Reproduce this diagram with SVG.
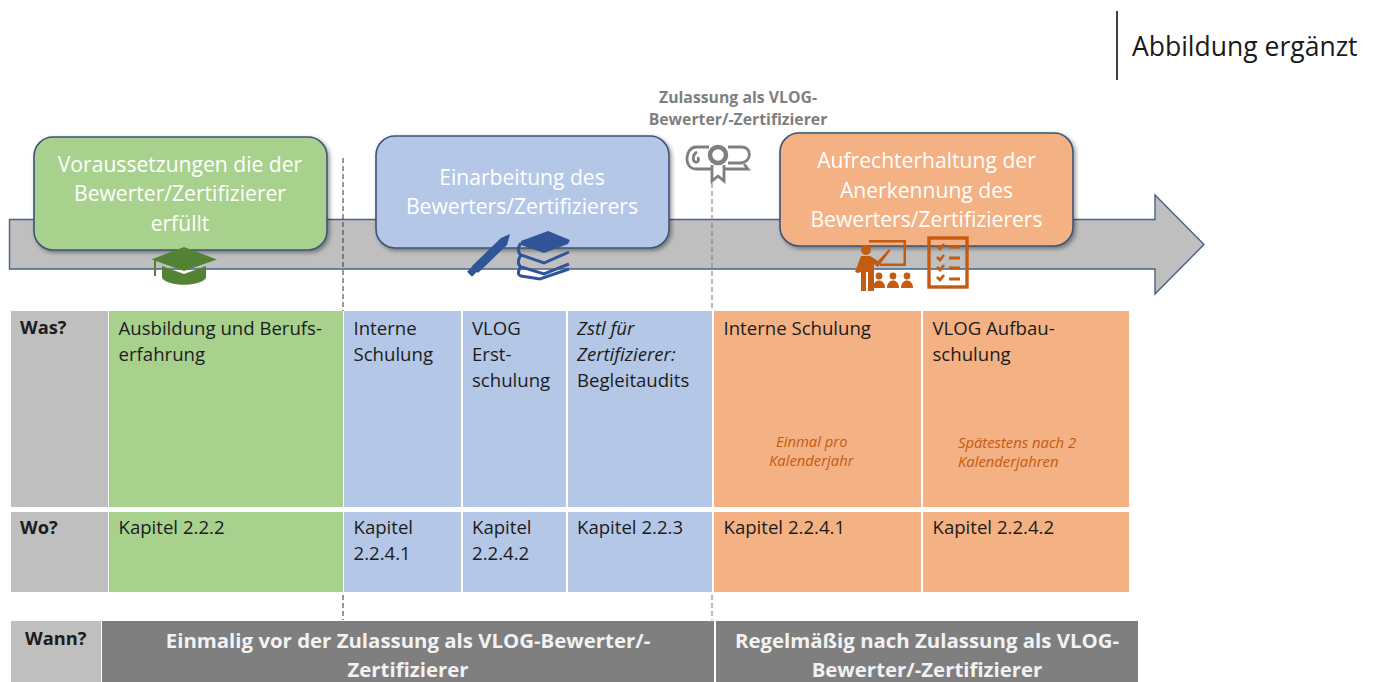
<svg xmlns="http://www.w3.org/2000/svg" width="1376" height="682" viewBox="0 0 1376 682">
<defs>
<filter id="sh" x="-5%" y="-10%" width="112%" height="125%"><feDropShadow dx="2" dy="2" stdDeviation="2" flood-color="#000" flood-opacity="0.4"/></filter>
</defs>
<style>
text{font-family:"Open Sans","Liberation Sans",sans-serif}
.t{font-size:18.6px;fill:#1c1c1c}
.b{font-size:18.3px;fill:#1c1c1c;font-weight:700}
.h{font-size:21.100px;fill:#fff;text-anchor:middle}
.w{font-size:20.400px;fill:#f2f2f2;font-weight:700;text-anchor:middle}
.n{font-size:14.800px;fill:#c55a11;font-style:italic}
.box{stroke:#3b5478;stroke-width:1.6;filter:url(#sh)}
.dash{stroke:#333;stroke-width:1;stroke-dasharray:5 3;fill:none}
.dashg{stroke:#8a8a8a;stroke-width:1.2;stroke-dasharray:5 3;fill:none}
.green{fill:#a9d18e}.blue{fill:#b4c7e7}.orange{fill:#f4b183}.grey{fill:#bfbfbf}.dark{fill:#7f7f7f}
</style>
<g id="note"><line x1="1117" y1="11" x2="1117" y2="80" stroke="#000" stroke-width="1.5"/><text x="1132" y="56" font-size="26.500px" fill="#1a1a1a">Abbildung ergänzt</text></g>
<g id="timeline"><path d="M9.500 219.500H1155V195L1204 244.500L1155 294V269H9.500Z" fill="#bfbfbf" stroke="#4a6286" stroke-width="1.4"/></g>
<g id="connectors">
<line class="dash" x1="343" y1="158" x2="343" y2="311"/>
<line class="dash" x1="343" y1="595" x2="343" y2="620"/>
<line class="dashg" x1="712" y1="183" x2="712" y2="311"/>
<line class="dashg" x1="712" y1="595" x2="712" y2="620"/>
</g>
<g id="node-voraussetzungen"><rect class="box green" x="34" y="137" width="293" height="113" rx="19"/>
<text class="h"><tspan x="180" y="172">Voraussetzungen die der</tspan><tspan x="180" y="201">Bewerter/Zertifizierer</tspan><tspan x="180" y="231">erfüllt</tspan></text>
<g fill="#548235"><path d="M184 247L217 259.500L184 271L156 261V276H154V260L151 259.500Z"/><path d="M162 266L184 274L206 266V278C200 287 168 287 162 278Z"/></g></g>
<g id="node-einarbeitung"><rect class="box blue" x="376" y="136" width="293" height="112" rx="19"/>
<text class="h"><tspan x="522" y="185">Einarbeitung des</tspan><tspan x="522" y="214">Bewerters/Zertifizierers</tspan></text>
<g fill="#2f5597"><path d="M472 266L501 238L510 234L507 245L478 273Z"/><rect x="468" y="268" width="8" height="7" transform="rotate(-45 472 271)"/>
<path d="M548 231L570 240L568 244L544 253L521 245V241Z"/><g fill="none" stroke="#2f5597" stroke-width="3"><path d="M521 243C517 248 518 253 521 255L544 263L569 252"/><path d="M521 255C517 260 518 265 521 267L544 274L569 264"/><path d="M521 267C517 272 518 275 521 276L540 279L569 269"/></g></g></g>
<g id="node-zulassung"><text font-size="15.800px" font-weight="700" fill="#7f7f7f" text-anchor="middle"><tspan x="738" y="103">Zulassung als VLOG-</tspan><tspan x="738" y="125">Bewerter/-Zertifizierer</tspan></text>
<g fill="none" stroke="#7f7f7f" stroke-width="2.800"><path d="M709 147H696C685 147 683 169 696 169H712M724 169H748L744 164"/><path d="M728 147H742C752 147 752 162 741 163H728"/><path d="M697 152C692 155 692 163 697 162C699 161 699 158 697 158"/><circle cx="718" cy="155" r="8" stroke-width="4.500"/><path d="M712 165V181L718 176L724 181V165"/></g></g>
<g id="node-aufrechterhaltung"><rect class="box orange" x="780" y="133" width="293" height="113" rx="19"/>
<text class="h"><tspan x="926.500" y="168">Aufrechterhaltung der</tspan><tspan x="926.500" y="198">Anerkennung des</tspan><tspan x="926.500" y="227">Bewerters/Zertifizierers</tspan></text>
<g fill="#c55a11"><path d="M869 240H906V266H880V263.500H903.500V242.500H869Z"/><circle cx="866" cy="250" r="5"/><path d="M861 256H870L878 261L889 249L890.500 250.500L878 267L874 264V291H868V272H866V291H861V272L858 273L855 272Z"/>
<circle cx="879" cy="276" r="3.400"/><path d="M873 288C873 278 885 278 885 288Z"/><circle cx="893" cy="276" r="3.400"/><path d="M887 288C887 278 899 278 899 288Z"/><circle cx="907" cy="276" r="3.400"/><path d="M901 288C901 278 913 278 913 288Z"/></g>
<g fill="none" stroke="#c55a11" stroke-width="2.800"><rect x="929" y="238" width="38" height="49" stroke-width="3.400"/><path d="M937 246L940 249L944 244M949 247H960M937 257L940 260L944 255M949 258H960M937 267L940 270L944 265M949 268H960M937 277L940 280L944 275M949 279H960"/></g></g>
<g id="row-was">
<rect class="grey" x="11" y="311" width="97" height="196"/>
<rect class="green" x="109" y="311" width="234" height="196"/>
<rect class="blue" x="344" y="311" width="117" height="196"/>
<rect class="blue" x="463" y="311" width="103" height="196"/>
<rect class="blue" x="568" y="311" width="144" height="196"/>
<rect class="orange" x="714" y="311" width="207" height="196"/>
<rect class="orange" x="923" y="311" width="206" height="196"/>
<text class="b" x="20" y="334">Was?</text>
<text class="t"><tspan x="118.500" y="335">Ausbildung und Berufs-</tspan><tspan x="118.500" y="361">erfahrung</tspan></text>
<text class="t"><tspan x="353.500" y="335">Interne</tspan><tspan x="353.500" y="361">Schulung</tspan></text>
<text class="t"><tspan x="472" y="335">VLOG</tspan><tspan x="472" y="361">Erst-</tspan><tspan x="472" y="387">schulung</tspan></text>
<text class="t"><tspan x="577" y="335" font-style="italic">Zstl für</tspan><tspan x="577" y="361" font-style="italic">Zertifizierer:</tspan><tspan x="577" y="387">Begleitaudits</tspan></text>
<text class="t" x="723.500" y="335">Interne Schulung</text>
<text class="t"><tspan x="932.500" y="335">VLOG Aufbau-</tspan><tspan x="932.500" y="361">schulung</tspan></text>
<text class="n"><tspan x="776" y="447">Einmal pro</tspan><tspan x="769" y="466">Kalenderjahr</tspan></text>
<text class="n"><tspan x="958" y="448">Spätestens nach 2</tspan><tspan x="958" y="467">Kalenderjahren</tspan></text>
</g>
<g id="row-wo">
<rect class="grey" x="11" y="512" width="97" height="80"/>
<rect class="green" x="109" y="512" width="234" height="80"/>
<rect class="blue" x="344" y="512" width="117" height="80"/>
<rect class="blue" x="463" y="512" width="103" height="80"/>
<rect class="blue" x="568" y="512" width="144" height="80"/>
<rect class="orange" x="714" y="512" width="207" height="80"/>
<rect class="orange" x="923" y="512" width="206" height="80"/>
<text class="b" x="20" y="534">Wo?</text>
<text class="t" x="118.500" y="534">Kapitel 2.2.2</text>
<text class="t"><tspan x="353.500" y="534">Kapitel</tspan><tspan x="353.500" y="560">2.2.4.1</tspan></text>
<text class="t"><tspan x="472" y="534">Kapitel</tspan><tspan x="472" y="560">2.2.4.2</tspan></text>
<text class="t" x="577" y="534">Kapitel 2.2.3</text>
<text class="t" x="723.500" y="534">Kapitel 2.2.4.1</text>
<text class="t" x="932.500" y="534">Kapitel 2.2.4.2</text>
</g>
<g id="row-wann">
<rect class="grey" x="11" y="621" width="90" height="61"/>
<rect class="dark" x="102" y="621" width="612" height="61"/>
<rect class="dark" x="716" y="621" width="422" height="61"/>
<text class="b" x="25" y="645">Wann?</text>
<text class="w"><tspan x="408" y="648">Einmalig vor der Zulassung als VLOG-Bewerter/-</tspan><tspan x="408" y="677">Zertifizierer</tspan></text>
<text class="w"><tspan x="927" y="648">Regelmäßig nach Zulassung als VLOG-</tspan><tspan x="927" y="677">Bewerter/-Zertifizierer</tspan></text>
</g>
</svg>
